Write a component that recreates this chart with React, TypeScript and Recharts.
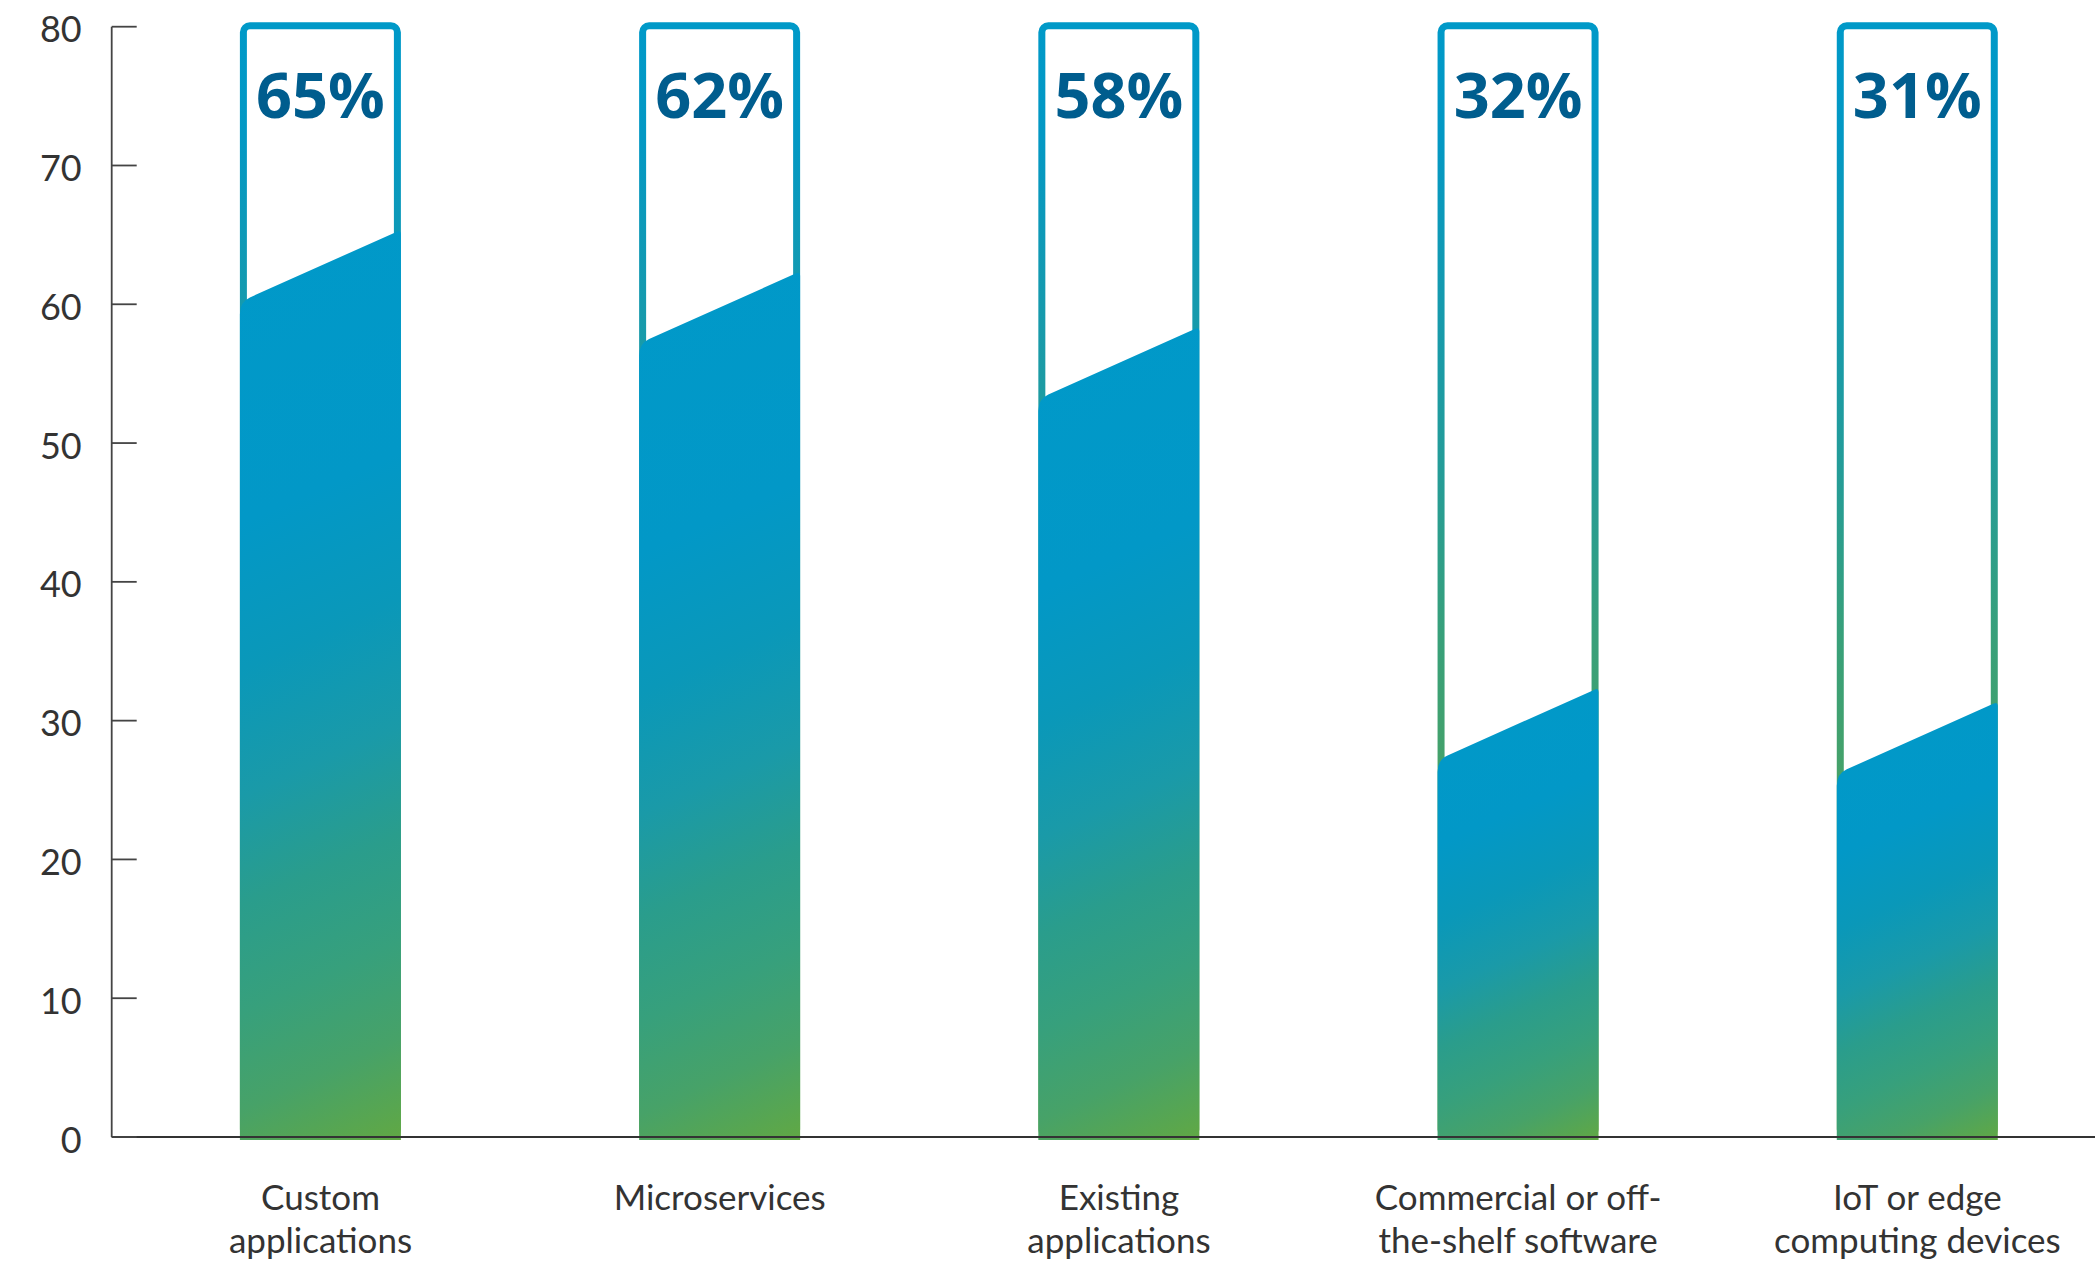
import React from 'react';
import { BarChart, Bar, XAxis, YAxis } from 'recharts';

const categories = [
  'Custom applications',
  'Microservices',
  'Existing applications',
  'Commercial or off-the-shelf software',
  'IoT or edge computing devices',
];
const labelLines = [
  ['Custom', 'applications'],
  ['Microservices'],
  ['Existing', 'applications'],
  ['Commercial or off-', 'the-shelf software'],
  ['IoT or edge', 'computing devices'],
];
const values = [65, 62, 58, 32, 31];
const yTicks = [0, 10, 20, 30, 40, 50, 60, 70, 80];

const data = categories.map((c, i) => ({ category: c, value: values[i] }));

const FONT = "'Open Sans', 'DejaVu Sans', sans-serif";
const AXIS_FONT = "Lato, 'Open Sans', sans-serif";

const fillStops: [number, string][] = [
  [0, '#0099c9'],
  [0.3, '#0298c7'],
  [0.45, '#0a98b9'],
  [0.58, '#1a9aa8'],
  [0.69, '#2a9d8c'],
  [0.8, '#37a07c'],
  [0.9, '#47a268'],
  [1, '#60a845'],
];

const renderOutline = (props: any) => {
  const { x, y, width, height, index } = props;
  const sw = 7;
  return (
    <g key={`bg-${index}`}>
      <rect
        x={x + sw / 2}
        y={y - 1}
        width={width - sw}
        height={height}
        rx={6.5}
        ry={6.5}
        fill="#ffffff"
        stroke="url(#outlineGrad)"
        strokeWidth={sw}
      />
      <text
        x={x + width / 2}
        y={y + 91}
        textAnchor="middle"
        fontFamily={FONT}
        fontWeight={700}
        fontSize={63}
        fill="#005d8e"
      >
        {`${values[index]}%`}
      </text>
    </g>
  );
};

const renderFill = (props: any) => {
  const { x, y, width, height, index } = props;
  const x0 = x;
  const x1 = x + width;
  const yR = y - 5;
  const yL = yR + 72;
  const yb = y + height + 3;
  const s = 72 / width;
  const d = `M${x0},${yb} L${x0},${yL + 12} Q${x0},${yL} ${x0 + 10},${yL - 10 * s} L${x1 - 4},${yR + 4 * s} Q${x1},${yR} ${x1},${yR + 4} L${x1},${yb} Z`;
  const nx = 0.41;
  const ny = 0.91;
  const L = nx * width + ny * (yb - yR);
  const id = `fillGrad${index}`;
  return (
    <g>
      <defs>
        <linearGradient
          id={id}
          gradientUnits="userSpaceOnUse"
          x1={x0}
          y1={yR}
          x2={x0 + nx * L}
          y2={yR + ny * L}
        >
          {fillStops.map(([o, c], i) => (
            <stop key={i} offset={o} stopColor={c} />
          ))}
        </linearGradient>
      </defs>
      <path d={d} fill={`url(#${id})`} />
    </g>
  );
};

const YTick = (props: any) => {
  const { x, y, payload } = props;
  return (
    <g>
      <line x1={x + 30} x2={x + 55} y1={y} y2={y} stroke="#444" strokeWidth={1.8} />
      <text
        x={x}
        y={y + 15.5}
        textAnchor="end"
        fontFamily={AXIS_FONT}
        fontWeight={400}
        fontSize={36}
        fill="#333"
      >
        {payload.value}
      </text>
    </g>
  );
};

const XTick = (props: any) => {
  const { x, y, payload } = props;
  const idx = categories.indexOf(payload.value);
  const lines = labelLines[idx] || [String(payload.value)];
  return (
    <g>
      <text textAnchor="middle" fontFamily={AXIS_FONT} fontWeight={400} fontSize={35} fill="#333">
        {lines.map((l, i) => (
          <tspan key={i} x={x} y={y + 73 + i * 42.5}>
            {l}
          </tspan>
        ))}
      </text>
    </g>
  );
};

export default function App() {
  return (
    <div style={{ position: 'absolute', left: 0, top: 0, width: 2095, height: 1261, background: '#fff' }}>
      <BarChart
        width={2095}
        height={1261}
        data={data}
        margin={{ top: 26.7, right: 0, left: 11.7, bottom: 0 }}
      >
        <defs>
          <linearGradient id="outlineGrad" x1="0" y1="0" x2="0" y2="1">
            <stop offset="0" stopColor="#0099c8" />
            <stop offset="0.1" stopColor="#0398c4" />
            <stop offset="0.25" stopColor="#159aae" />
            <stop offset="0.4" stopColor="#249c98" />
            <stop offset="0.55" stopColor="#38a07a" />
            <stop offset="0.7" stopColor="#48a266" />
            <stop offset="1" stopColor="#5aa64c" />
          </linearGradient>
        </defs>
        <XAxis
          dataKey="category"
          interval={0}
          tickLine={false}
          tickSize={0}
          tickMargin={0}
          height={124}
          padding={{ left: 9.2, right: -22 }}
          axisLine={{ stroke: '#333', strokeWidth: 2 }}
          tick={<XTick />}
        />
        <YAxis
          type="number"
          domain={[0, 80]}
          ticks={yTicks}
          interval={0}
          width={100}
          tickLine={false}
          tickSize={0}
          tickMargin={30}
          axisLine={{ stroke: '#444', strokeWidth: 1.8 }}
          tick={<YTick />}
        />
        <Bar
          dataKey="value"
          barSize={161}
          isAnimationActive={false}
          background={renderOutline}
          shape={renderFill}
        />
      </BarChart>
    </div>
  );
}
